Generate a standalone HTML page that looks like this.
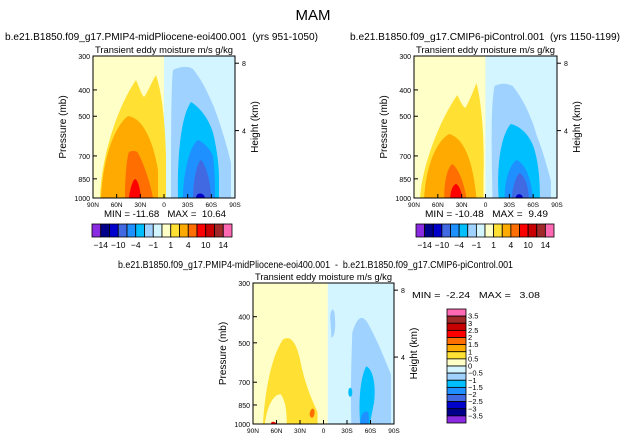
<!DOCTYPE html>
<html><head><meta charset="utf-8"><style>
body{margin:0;background:#fff;width:627px;height:442px;overflow:hidden}
svg{font-family:"Liberation Sans",Arial,sans-serif}
text{white-space:pre}
</style></head><body>
<svg id="s" width="627" height="442">
<text x="313" y="20" font-size="15" text-anchor="middle">MAM</text>
</svg>
<script>
const pressureTicks=[300,400,500,700,850,1000];
const heightTicks=[8,4];
const latLabels=["90N","60N","30N","0","30S","60S","90S"];
const cbColors=["#8a2be2","#00008b","#0000cd","#4169e1","#1e90ff","#00bfff","#a0d2ff","#d2f5ff","#ffffc8","#ffe033","#ffaa00","#ff6e00","#ff0000","#c80000","#a02828","#ff69b4"];
const cbLabels1=["-14","-10","-4","-1","1","4","10","14"];
const cbLabels3=["3.5","3","2.5","2","1.5","1","0.5","0","-0.5","-1","-1.5","-2","-2.5","-3","-3.5"];
const panelTitles=["b.e21.B1850.f09_g17.PMIP4-midPliocene-eoi400.001  (yrs 951-1050)","b.e21.B1850.f09_g17.CMIP6-piControl.001  (yrs 1150-1199)","b.e21.B1850.f09_g17.PMIP4-midPliocene-eoi400.001  -  b.e21.B1850.f09_g17.CMIP6-piControl.001"];
const minVals=["-11.68","-10.48","-2.24"];
const maxVals=["10.64","9.49","3.08"];
const S=document.getElementById('s');const NS="http://www.w3.org/2000/svg";
function el(t,a,p){const e=document.createElementNS(NS,t);for(const k in a)e.setAttribute(k,a[k]);(p||S).appendChild(e);return e;}
function txt(x,y,s,sz,anc,p,len){const a={x:x,y:y,'font-size':sz,'text-anchor':anc||'middle'};if(len){a.textLength=len;a.lengthAdjust='spacingAndGlyphs';}const e=el('text',a,p);e.textContent=s;return e;}
const py=(p,y0,h)=>y0+h*Math.log(p/300)/Math.log(1000/300);
const shapes=[
 [["#a0d2ff","M78,142 C78,90 78,30 80,14 C88,10 96,10 100,13 C112,28 118,45 121,51 C128,70 134,90 138,107 L138,142Z"],
  ["#00bfff","M85,142 C84,100 88,60 98,46 C108,52 118,66 121,81 C124,95 126,110 126,121 L126,142Z"],
  ["#1e90ff","M90,142 C90,120 96,90 105,84 C114,88 120,98 120,101 C122,115 122,130 122,142Z"],
  ["#4169e1","M100,142 C100,125 104,106 108,104 C114,110 118,130 118,142Z"],
  ["#0000cd","M103,142 C103,136 111,136 112,142Z"],
  ["#ffe033","M7,142 C8,100 25,50 43,24 C46,30 48,38 51,41 C55,36 59,25 63,19 C70,40 72,70 73,100 L73,142Z"],
  ["#ffaa00","M8,142 C10,100 22,70 35,60 C50,62 60,85 65,114 L65,142Z"],
  ["#ff6e00","M32,142 C32,120 34,100 36,96 C40,94 44,95 45,97 C52,110 58,130 60,142Z"],
  ["#ff0000","M36,142 C37,132 40,124 42,123 C45,124 47,132 48,142Z"]],
 [["#a0d2ff","M78,142 C77,100 76,50 80,30 C86,27 92,27 98,30 C110,45 118,65 122,80 C128,95 132,110 136,125 L136,142Z"],
  ["#00bfff","M84,142 C82,110 86,80 96,68 C106,70 116,80 120,95 C124,110 125,125 125,142Z"],
  ["#1e90ff","M90,142 C90,125 95,108 102,104 C110,108 116,120 118,142Z"],
  ["#4169e1","M97,142 C98,130 102,118 105,117 C110,120 114,132 114,142Z"],
  ["#0000cd","M101,142 C101,137 108,137 108,142Z"],
  ["#ffe033","M6,142 C8,110 25,65 43,39 C46,45 48,50 51,52 C55,45 59,35 62,27 C68,50 70,90 69,121 L69,142Z"],
  ["#ffaa00","M10,142 C12,110 22,85 35,78 C48,82 58,100 62,142Z"],
  ["#ff6e00","M30,142 C30,125 33,112 38,108 C44,112 50,128 52,142Z"],
  ["#ff0000","M36,142 C36,135 39,128 42,128 C45,130 47,135 48,142Z"]],
 [["#a0d2ff","M99,142 C98,110 99,80 100,50 C106,30 112,32 118,45 C126,60 132,75 139,92 L139,142Z"],
  ["#a0d2ff","M78,38 C77,30 80,22 82,30 C84,45 82,55 79,55Z"],
  ["#00bfff","M108,142 C106,120 108,95 114,84 C120,86 124,100 122,120 C120,130 118,140 118,142Z"],
  ["#00bfff","M96,110 C96,104 100,104 100,110 C100,116 96,116 96,110Z"],
  ["#1e90ff","M108,142 C108,132 112,128 116,130 C117,136 117,140 116,142Z"],
  ["#ffe033","M10,142 C12,110 18,75 30,57 C38,52 44,60 48,80 C52,100 58,115 65,130 L65,142Z"],
  ["#ffffc8","M12,142 C14,125 20,112 28,112 C32,118 34,126 34,142Z"],
  ["#ff6e00","M57,132 C58,125 62,125 62,130 C62,136 58,138 57,132Z"],
  ["#ff0000","M18,142 C18,139 22,139 24,142Z"]]
];
const panels=[{x:93,y:56,w:142,h:142,tx:5,tl:313,cb:{x:92,w:140}},{x:414,y:56,w:143,h:142,tx:350,tl:270,cb:{x:416,w:138}},{x:253,y:283,w:141,h:141,tx:118,tl:395}];
panels.forEach((P,i)=>{
 const g=el('g',{});
 const tt=txt(P.tx,i<2?40:268,panelTitles[i],10,'start',g,P.tl);
 const st=txt(P.x+2,P.y-3,"Transient eddy moisture m/s g/kg",9.5,'start',g,P.w-4);
 const half=P.w*(i==2?0.53:0.5);
 el('rect',{x:P.x,y:P.y,width:half,height:P.h,fill:'#ffffc8'},g);
 el('rect',{x:P.x+half,y:P.y,width:P.w-half,height:P.h,fill:'#d2f5ff'},g);
 const sg=el('g',{transform:`translate(${P.x},${P.y}) scale(${P.w/142},${P.h/142})`},g);
 shapes[i].forEach(s=>{const p=el('path',{d:s[1],fill:s[0]},sg);});
 el('rect',{x:P.x,y:P.y,width:P.w,height:P.h,fill:'none',stroke:'#000','stroke-width':1},g);
 pressureTicks.forEach(p=>{const y=py(p,P.y,P.h);el('line',{x1:P.x,x2:P.x+4,y1:y,y2:y,stroke:'#000'},g);txt(P.x-3,y+3,String(p),7,'end',g);});
 heightTicks.forEach(hk=>{const p=1000*Math.exp(-hk/7);const y=py(p,P.y,P.h);el('line',{x1:P.x+P.w,x2:P.x+P.w+4,y1:y,y2:y,stroke:'#000'},g);txt(P.x+P.w+7,y+3,String(hk),7,'start',g);});
 latLabels.forEach((l,k)=>{const x=P.x+k*P.w/6;el('line',{x1:x,x2:x,y1:P.y+P.h,y2:P.y+P.h-4,stroke:'#000'},g);txt(x,P.y+P.h+9,l,6.5,'middle',g);});
 const yl=txt(0,0,"Pressure (mb)",10,'middle',g);yl.setAttribute('transform',`translate(${P.x-27},${P.y+P.h/2}) rotate(-90)`);
 const hl=txt(0,0,"Height (km)",10,'middle',g);hl.setAttribute('transform',`translate(${P.x+P.w+23},${P.y+P.h/2}) rotate(-90)`);
 if(i<2){
  const m=txt(P.x+11,P.y+P.h+19,`MIN = ${minVals[i]}   MAX =  ${maxVals[i]}`,9,'start',g,P.w-20);
  const cg=el('g',{},g);
  const bw=P.cb.w/cbColors.length;
  cbColors.forEach((c,k)=>el('rect',{x:P.cb.x+k*bw,y:224,width:bw,height:13,fill:c,stroke:'#000','stroke-width':0.8},cg));
  cbLabels1.forEach((l,k)=>txt(P.cb.x+(2*k+1)*bw,248,l.replace('-','\u2212'),8.5,'middle',cg));
 } else {
  const m=txt(412,298,`MIN =  ${minVals[i]}   MAX =   ${maxVals[i]}`,8,'start',g,128);
  const cg=el('g',{},g);
  const bh=114/cbColors.length;
  cbColors.slice().reverse().forEach((c,k)=>el('rect',{x:447,y:309+k*bh,width:19,height:bh,fill:c,stroke:'#000','stroke-width':0.8},cg));
  cbLabels3.forEach((l,k)=>txt(468,309+(k+1)*bh+2.5,l.replace('-','\u2212'),7.5,'start',cg));
 }
});
</script>
</body></html>
